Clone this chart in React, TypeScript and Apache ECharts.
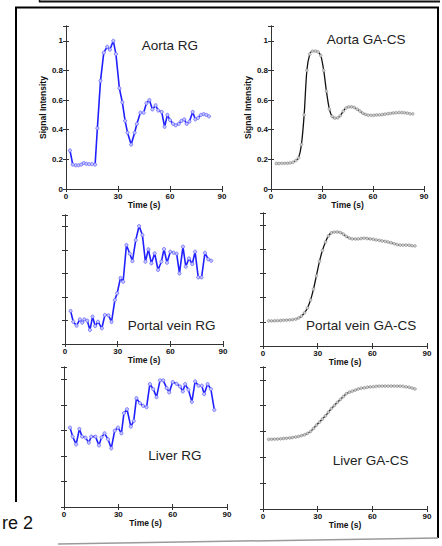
import React, { useEffect, useRef } from "react";
import * as echarts from "echarts";

// ---- data ----
const xTicks = [0, 30, 60, 90];
const yTickLabels = ["0", "0.2", "0.4", "0.6", "0.8", "1"];

const aortaRgTime = [2.3, 3.9, 5.6, 7.2, 8.8, 10.2, 11.8, 13.4, 15.0, 16.8, 18.1, 19.9, 21.8, 23.8, 25.3, 27.3, 28.8, 30.8, 32.5, 34.1, 35.5, 37.6, 39.6, 40.9, 42.9, 44.8, 46.4, 48.1, 49.9, 51.7, 53.2, 55.2, 56.9, 58.5, 60.0, 61.7, 63.3, 65.0, 66.6, 68.2, 69.6, 71.2, 73.1, 74.6, 76.2, 77.8, 79.4, 81.0, 82.5];
const aortaRgSignal = [0.26, 0.165, 0.16, 0.16, 0.165, 0.175, 0.17, 0.168, 0.168, 0.165, 0.41, 0.73, 0.92, 0.96, 0.94, 1.0, 0.91, 0.68, 0.585, 0.46, 0.38, 0.30, 0.38, 0.44, 0.515, 0.515, 0.578, 0.6, 0.537, 0.565, 0.53, 0.52, 0.42, 0.50, 0.465, 0.44, 0.43, 0.44, 0.46, 0.47, 0.44, 0.455, 0.52, 0.47, 0.48, 0.5, 0.505, 0.5, 0.49];

const portalRgTime = [3.2, 4.7, 6.6, 8.5, 9.8, 11.0, 12.7, 14.2, 15.7, 17.2, 18.8, 21.0, 22.7, 24.8, 26.5, 28.4, 29.7, 31.6, 33.1, 35.0, 36.9, 38.4, 40.3, 42.2, 44.1, 45.8, 47.5, 49.2, 51.1, 53.0, 54.9, 56.4, 58.1, 60.0, 61.9, 63.6, 65.2, 67.2, 68.8, 70.6, 72.5, 74.1, 75.9, 77.8, 79.7, 81.6, 83.3];
const portalRgSignal = [0.281, 0.19, 0.156, 0.21, 0.182, 0.21, 0.199, 0.119, 0.233, 0.153, 0.19, 0.134, 0.247, 0.244, 0.188, 0.375, 0.432, 0.563, 0.531, 0.844, 0.77, 0.707, 0.886, 1.006, 0.929, 0.702, 0.807, 0.688, 0.773, 0.631, 0.702, 0.81, 0.693, 0.787, 0.778, 0.77, 0.602, 0.83, 0.659, 0.73, 0.682, 0.787, 0.568, 0.568, 0.778, 0.722, 0.71];

const liverRgTime = [3.3, 4.8, 6.7, 8.5, 10.0, 11.9, 13.7, 15.0, 17.4, 19.3, 20.7, 22.4, 24.3, 26.1, 28.0, 29.8, 31.7, 33.1, 34.8, 36.9, 38.5, 40.0, 41.9, 43.7, 45.6, 47.4, 49.3, 51.1, 53.0, 54.8, 56.7, 58.1, 60.0, 62.2, 64.1, 65.6, 66.9, 68.7, 70.6, 72.4, 74.3, 76.1, 77.4, 79.3, 81.1, 83.0];
const liverRgSignal = [0.624, 0.553, 0.492, 0.613, 0.553, 0.545, 0.505, 0.553, 0.553, 0.484, 0.547, 0.579, 0.532, 0.461, 0.6, 0.624, 0.579, 0.737, 0.768, 0.632, 0.676, 0.855, 0.816, 0.795, 0.784, 0.966, 0.926, 0.863, 0.995, 0.995, 0.934, 0.9, 0.982, 0.968, 0.947, 0.908, 0.966, 0.921, 0.826, 0.987, 0.953, 0.953, 0.887, 0.966, 0.926, 0.763];

const gacsTime = [3.1, 4.7, 6.4, 8.0, 9.7, 11.3, 12.9, 14.6, 16.2, 17.9, 19.5, 21.1, 22.8, 24.4, 26.1, 27.7, 29.3, 31.0, 32.6, 34.3, 35.9, 37.5, 39.2, 40.8, 42.5, 44.1, 45.7, 47.4, 49.0, 50.7, 52.3, 53.9, 55.6, 57.2, 58.9, 60.5, 62.1, 63.8, 65.4, 67.1, 68.7, 70.3, 72.0, 73.6, 75.3, 76.9, 78.5, 80.2, 81.8, 83.4];
const aortaGacsSignal = [0.172, 0.172, 0.173, 0.173, 0.174, 0.176, 0.18, 0.192, 0.21, 0.3, 0.5, 0.8, 0.91, 0.93, 0.93, 0.925, 0.9, 0.8, 0.66, 0.54, 0.49, 0.478, 0.48, 0.495, 0.525, 0.546, 0.554, 0.555, 0.55, 0.538, 0.526, 0.512, 0.503, 0.498, 0.497, 0.497, 0.5, 0.5, 0.502, 0.505, 0.508, 0.51, 0.513, 0.515, 0.516, 0.516, 0.515, 0.512, 0.508, 0.507];
const portalGacsSignal = [0.208, 0.208, 0.209, 0.21, 0.211, 0.212, 0.214, 0.216, 0.218, 0.222, 0.232, 0.247, 0.275, 0.315, 0.38, 0.47, 0.58, 0.7, 0.79, 0.86, 0.91, 0.936, 0.942, 0.943, 0.938, 0.925, 0.907, 0.893, 0.886, 0.885, 0.886, 0.889, 0.891, 0.889, 0.886, 0.882, 0.878, 0.874, 0.869, 0.865, 0.86, 0.854, 0.846, 0.839, 0.835, 0.834, 0.834, 0.833, 0.83, 0.828];
const liverGacsSignal = [0.539, 0.54, 0.541, 0.542, 0.544, 0.546, 0.548, 0.551, 0.554, 0.558, 0.562, 0.568, 0.575, 0.586, 0.601, 0.624, 0.649, 0.673, 0.697, 0.722, 0.75, 0.778, 0.802, 0.826, 0.849, 0.871, 0.893, 0.905, 0.913, 0.921, 0.93, 0.935, 0.939, 0.943, 0.946, 0.948, 0.95, 0.951, 0.952, 0.952, 0.952, 0.952, 0.952, 0.951, 0.951, 0.95, 0.947, 0.943, 0.937, 0.93];

const panelTitles = ["Aorta RG", "Aorta GA-CS", "Portal vein RG", "Portal vein GA-CS", "Liver RG", "Liver GA-CS"];
const xAxisName = "Time (s)";
const yAxisName = "Signal Intensity";
const figureLabel = "re 2";

const FONT = "'Liberation Sans', Arial, Helvetica, sans-serif";
const AX = "#333";

const zip = (t: number[], v: number[]) => t.map((x, i) => [x, v[i]]);

export default function App() {
  const ref = useRef<HTMLDivElement>(null);
  useEffect(() => {
    if (!ref.current) return;
    const chart = echarts.init(ref.current, undefined, { renderer: "svg" });

    const panels = [
      { grid: { left: 66, top: 26, width: 156, height: 163 }, kind: "rg", data: zip(aortaRgTime, aortaRgSignal), yLabels: true, title: [141.7, 45] },
      { grid: { left: 271, top: 26, width: 153, height: 163 }, kind: "cs", data: zip(gacsTime, aortaGacsSignal), yLabels: true, title: [326.7, 39.5] },
      { grid: { left: 65, top: 215, width: 158, height: 129 }, kind: "rg", data: zip(portalRgTime, portalRgSignal), yLabels: false, title: [127.7, 325] },
      { grid: { left: 263, top: 213, width: 164, height: 133 }, kind: "cs", data: zip(gacsTime, portalGacsSignal), yLabels: false, title: [306, 325] },
      { grid: { left: 64, top: 367, width: 163, height: 140 }, kind: "rg", data: zip(liverRgTime, liverRgSignal), yLabels: false, title: [148.3, 455] },
      { grid: { left: 263, top: 367, width: 164, height: 142 }, kind: "cs", data: zip(gacsTime, liverGacsSignal), yLabels: false, title: [332.7, 460] },
    ];

    const grids: any[] = [];
    const xAxes: any[] = [];
    const yAxes: any[] = [];
    const series: any[] = [];
    const graphics: any[] = [];

    const tickStyle = { show: true, inside: true, length: 3, lineStyle: { color: AX, width: 1 } };
    const lineStyle = { show: true, lineStyle: { color: AX, width: 1 } };

    panels.forEach((p, gi) => {
      grids.push({ ...p.grid, containLabel: false, show: false });
      xAxes.push({
        type: "value", gridIndex: gi, position: "bottom", min: 0, max: 90, interval: 30,
        axisLine: lineStyle, axisTick: tickStyle, splitLine: { show: false },
        axisLabel: { show: true, margin: 3, fontSize: 8, fontWeight: "bold", color: "#111", fontFamily: FONT,
          formatter: (v: number) => (xTicks.includes(v) ? String(v) : "") },
        name: xAxisName, nameLocation: "middle", nameGap: 10,
        nameTextStyle: { fontSize: 8.5, fontWeight: "bold", color: "#111", fontFamily: FONT },
      });
      xAxes.push({
        type: "value", gridIndex: gi, position: "top", min: 0, max: 90, interval: 30,
        axisLine: lineStyle, axisTick: tickStyle, splitLine: { show: false }, axisLabel: { show: false },
      });
      yAxes.push({
        type: "value", gridIndex: gi, position: "left", min: 0, max: 1.1, interval: 0.2,
        axisLine: lineStyle, axisTick: tickStyle, splitLine: { show: false },
        axisLabel: { show: p.yLabels, margin: 3, fontSize: 8, fontWeight: "bold", color: "#111", fontFamily: FONT,
          formatter: (v: number) => {
            const i = Math.round(v / 0.2);
            return Math.abs(v - i * 0.2) < 1e-6 && i < yTickLabels.length ? yTickLabels[i] : "";
          } },
        name: p.yLabels ? yAxisName : "", nameLocation: "middle", nameGap: 14, nameRotate: 90,
        nameTextStyle: { fontSize: 8.5, fontWeight: "bold", color: "#111", fontFamily: FONT },
      });
      yAxes.push({
        type: "value", gridIndex: gi, position: "right", min: 0, max: 1.1, interval: 0.2,
        axisLine: lineStyle, axisTick: tickStyle, splitLine: { show: false }, axisLabel: { show: false },
      });
      if (p.kind === "rg") {
        series.push({
          type: "line", xAxisIndex: gi * 2, yAxisIndex: gi * 2, data: p.data,
          lineStyle: { color: "#2020ff", width: 1.6 }, symbol: "circle", symbolSize: 3.2, showSymbol: true,
          itemStyle: { color: "#c8c8ff", borderColor: "#5a5aff", borderWidth: 0.7 }, z: 3,
        });
      } else {
        series.push({
          type: "line", xAxisIndex: gi * 2, yAxisIndex: gi * 2, data: p.data, smooth: 0.3,
          lineStyle: { color: "#111", width: 1.3 }, symbol: "circle", symbolSize: 2.8, showSymbol: true,
          itemStyle: { color: "#cfcfcf", borderColor: "#8a8a8a", borderWidth: 0.6 }, z: 3,
        });
      }
      graphics.push({
        type: "text", x: p.title[0], y: p.title[1], z: 10,
        style: { text: panelTitles[gi], fontSize: 13.5, fontFamily: FONT, fill: "#222",
          align: "left", verticalAlign: "middle", textAlign: "left", textVerticalAlign: "middle" },
      });
    });

    // figure frame
    graphics.push(
      { type: "line", shape: { x1: 39, y1: 1.5, x2: 440, y2: 1.5 }, style: { stroke: "#111", lineWidth: 2 } },
      { type: "line", shape: { x1: 39.5, y1: 0, x2: 39.5, y2: 2 }, style: { stroke: "#111", lineWidth: 1.5 } },
      { type: "line", shape: { x1: 15, y1: 7.5, x2: 439, y2: 7.5 }, style: { stroke: "#000", lineWidth: 2 } },
      { type: "line", shape: { x1: 16, y1: 7, x2: 16, y2: 502 }, style: { stroke: "#000", lineWidth: 2 } },
      { type: "line", shape: { x1: 438, y1: 7, x2: 438, y2: 538 }, style: { stroke: "#000", lineWidth: 2 } },
      { type: "line", shape: { x1: 58, y1: 544, x2: 438, y2: 538 }, style: { stroke: "#9a9a9a", lineWidth: 1.5 } },
      { type: "text", x: 33, y: 532, style: { text: figureLabel, fontSize: 18, fontFamily: FONT, fill: "#111",
        align: "right", verticalAlign: "bottom", textAlign: "right", textVerticalAlign: "bottom" } },
    );

    chart.setOption({
      animation: false,
      backgroundColor: "#fff",
      grid: grids,
      xAxis: xAxes,
      yAxis: yAxes,
      series,
      graphic: graphics,
    });
    return () => chart.dispose();
  }, []);

  return <div ref={ref} style={{ position: "absolute", left: 0, top: 0, width: 442, height: 546 }} />;
}
